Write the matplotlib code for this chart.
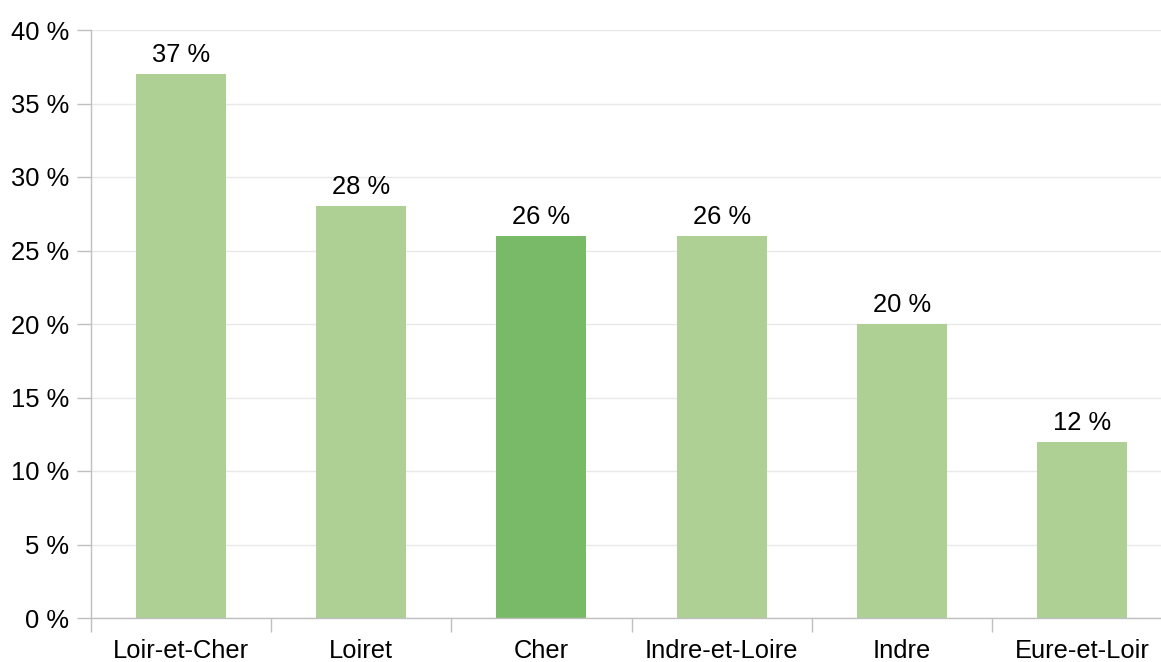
import matplotlib
matplotlib.use("Agg")
import matplotlib.pyplot as plt
from matplotlib.ticker import FixedLocator, NullFormatter

plt.rcParams['font.family'] = ['Liberation Sans', 'DejaVu Sans']

categories = ["Loir-et-Cher", "Loiret", "Cher", "Indre-et-Loire", "Indre", "Eure-et-Loir"]
values = [37, 28, 26, 26, 20, 12]
highlight = "Cher"
yticks = [0, 5, 10, 15, 20, 25, 30, 35, 40]

light = "#AED094"
dark = "#78BA67"
FS = 18.4

W, H = 1161, 662
fig = plt.figure(figsize=(W / 100, H / 100), dpi=100)
left, right, bottom, top = 91, 1172, 618, 30
ax = fig.add_axes([left / W, 1 - bottom / H, (right - left) / W, (bottom - top) / H])

x = list(range(len(categories)))
colors = [dark if c == highlight else light for c in categories]
ax.bar(x, values, width=0.5, color=colors, zorder=2)

for xi, v in zip(x, values):
    ax.annotate(f"{v} %", (xi, v), xytext=(0, 5), textcoords="offset points",
                ha="center", va="bottom", fontsize=FS, color="#000000")

ax.set_xlim(-0.5, len(categories) - 0.5)
ax.set_ylim(0, 40)
ax.set_yticks(yticks)
ax.set_yticklabels([f"{t} %" for t in yticks], fontsize=FS)
ax.yaxis.grid(True, color="#E8E8E8", linewidth=1, zorder=0)

ax.set_xticks(x)
ax.set_xticklabels(categories, fontsize=FS)
ax.tick_params(axis="x", which="major", length=0, pad=15)
ax.xaxis.set_minor_locator(FixedLocator([i - 0.5 for i in range(len(categories) + 1)]))
ax.xaxis.set_minor_formatter(NullFormatter())
ax.tick_params(axis="x", which="minor", length=10, color="#BFBFBF", width=1)
ax.tick_params(axis="y", length=10, color="#BFBFBF", width=1, pad=6)

for s in ["top", "right"]:
    ax.spines[s].set_visible(False)
for s in ["left", "bottom"]:
    ax.spines[s].set_color("#BFBFBF")
    ax.spines[s].set_linewidth(1)

fig.savefig("out.png", dpi=100)
